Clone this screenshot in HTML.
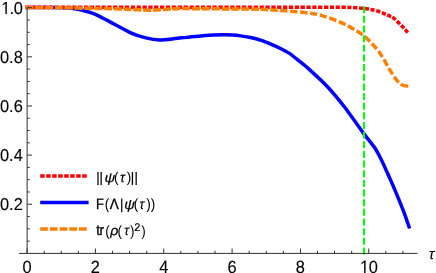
<!DOCTYPE html>
<html><head><meta charset="utf-8"><style>
html,body{margin:0;padding:0;background:#fff;}
svg{display:block;will-change:transform;text-rendering:geometricPrecision;font-family:"Liberation Sans",sans-serif;}
.tk text{font-size:16.4px;fill:#000;stroke:#000;stroke-width:0.12px;}
.lg text{font-size:13.5px;fill:#000;stroke:#000;stroke-width:0.2px;}
.it{font-style:italic;}
.lg .ns{stroke:none;}
.lg .b{stroke-width:0.32px;}
</style></head><body>
<svg width="436" height="273" viewBox="0 0 436 273">
<g fill="none" stroke-linejoin="round" stroke-width="3.5">
<path d="M25.50,7.60 C28.36,7.60 45.86,7.59 50.00,7.60 C54.14,7.61 58.06,7.56 61.00,7.70 C63.94,7.84 71.19,8.02 75.20,8.80 C79.21,9.58 88.93,11.60 95.40,14.40 C101.88,17.20 124.81,30.06 130.70,32.80 C136.59,35.54 142.52,37.07 145.90,37.90 C149.28,38.73 156.30,39.82 159.70,39.90 C163.09,39.98 171.47,38.95 175.00,38.60 C178.53,38.25 185.57,37.33 190.00,36.90 C194.43,36.47 207.98,35.13 213.00,34.90 C218.02,34.67 228.62,34.60 233.00,34.90 C237.38,35.20 247.12,36.84 250.50,37.50 C253.88,38.16 259.49,39.77 262.00,40.60 C264.51,41.43 269.78,43.66 272.00,44.60 C274.22,45.55 278.96,47.67 281.00,48.70 C283.04,49.73 287.40,51.98 289.50,53.40 C291.60,54.82 296.67,59.01 299.00,60.90 C301.33,62.79 306.23,66.64 309.50,69.60 C312.77,72.56 322.92,81.89 327.00,86.25 C331.08,90.61 340.18,101.44 344.50,107.00 C348.82,112.56 361.02,129.86 364.00,133.90 C366.98,137.94 368.70,139.92 370.00,141.60 C371.30,143.28 373.91,146.45 375.10,148.30 C376.29,150.16 379.00,155.16 380.20,157.50 C381.40,159.84 384.20,165.79 385.40,168.40 C386.60,171.01 389.61,177.91 390.50,179.90 C391.39,181.90 392.03,183.22 393.00,185.50 C393.97,187.78 397.42,196.00 398.80,199.40 C400.18,202.80 403.54,211.20 404.80,214.60 C406.06,218.00 409.04,226.88 409.60,228.50" stroke="#0000ff"/>
<path d="M25.50,7.30 C31.25,7.28 47.58,7.22 60.00,7.20 C72.42,7.18 76.67,7.16 100.00,7.15 C123.33,7.14 166.67,7.15 200.00,7.15 C233.33,7.15 276.67,7.12 300.00,7.15 C323.33,7.18 331.33,7.23 340.00,7.30 C348.67,7.37 348.00,7.38 352.00,7.55 C356.00,7.72 361.00,7.99 364.00,8.30 C367.00,8.61 368.00,9.02 370.00,9.40 C372.00,9.78 373.57,9.87 376.00,10.60 C378.43,11.33 382.27,12.87 384.60,13.80 C386.93,14.73 388.43,15.45 390.00,16.20 C391.57,16.95 392.45,17.10 394.00,18.30 C395.55,19.50 397.63,21.75 399.30,23.40 C400.97,25.05 402.60,26.67 404.00,28.20 C405.40,29.73 407.08,31.87 407.70,32.60" stroke="#ff0000" stroke-dasharray="4.3 1.55"/>
<path d="M25.50,7.50 C31.25,7.55 47.58,7.63 60.00,7.80 C72.42,7.97 90.00,8.31 100.00,8.50 C110.00,8.69 114.17,8.75 120.00,8.95 C125.83,9.15 130.00,9.50 135.00,9.70 C140.00,9.90 145.00,10.20 150.00,10.15 C155.00,10.10 160.00,9.67 165.00,9.40 C170.00,9.13 174.17,8.66 180.00,8.55 C185.83,8.44 192.50,8.69 200.00,8.75 C207.50,8.81 216.67,8.84 225.00,8.90 C233.33,8.96 242.17,8.93 250.00,9.10 C257.83,9.27 263.67,9.40 272.00,9.90 C280.33,10.40 291.67,11.15 300.00,12.10 C308.33,13.05 314.17,13.38 322.00,15.60 C329.83,17.82 339.83,21.87 347.00,25.40 C354.17,28.93 360.00,32.82 365.00,36.80 C370.00,40.78 374.00,45.77 377.00,49.30 C380.00,52.83 381.10,54.97 383.00,58.00 C384.90,61.03 386.73,64.67 388.40,67.50 C390.07,70.33 391.48,72.73 393.00,75.00 C394.52,77.27 396.17,79.53 397.50,81.10 C398.83,82.67 399.92,83.65 401.00,84.40 C402.08,85.15 402.80,85.32 404.00,85.60 C405.20,85.88 407.50,86.02 408.20,86.10" stroke="#ff7f00" stroke-dasharray="8.2 1.6 8.2 1.6 8.2 1.6 8.2 1.6 8.2 1.6 8.2 1.6 8.2 1.6 8.2 1.6 8.2 1.6 8.2 1.6 8.2 1.6 8.2 1.6 8.2 1.6 8.2 1.6 8.2 1.6 8.2 1.6 8.2 1.6 8.2 1.6 8.2 1.6 8.2 1.6 8.2 1.6 8.2 1.6 8.2 1.6 8.2 1.6 7.8 2 7.5 2.3 7.25 2.75 7.25 2.75 7.25 2.75 7.25 2.75 7.25 2.75 7.25 2.75 7.25 2.75 7.25 2.75 7.25 2.75 7.25 2.75 7.25 2.75 7.25 2.75 7.25 2.75 7.25 2.75 7.25 2.75 12 5"/>
<line x1="364" y1="6.2" x2="364" y2="254.5" stroke="#00ff00" stroke-width="2.1" stroke-dasharray="7 2.65"/>
</g>
<g stroke="#303030" stroke-width="1" fill="none">
<line x1="19" y1="253.4" x2="417.4" y2="253.4"/>
<line x1="27.1" y1="7.7" x2="27.1" y2="253.4"/>
<line x1="27.10" y1="253.40" x2="27.10" y2="248.50"/><line x1="44.18" y1="253.40" x2="44.18" y2="250.80"/><line x1="61.27" y1="253.40" x2="61.27" y2="250.80"/><line x1="78.35" y1="253.40" x2="78.35" y2="250.80"/><line x1="95.43" y1="253.40" x2="95.43" y2="248.50"/><line x1="112.51" y1="253.40" x2="112.51" y2="250.80"/><line x1="129.59" y1="253.40" x2="129.59" y2="250.80"/><line x1="146.68" y1="253.40" x2="146.68" y2="250.80"/><line x1="163.76" y1="253.40" x2="163.76" y2="248.50"/><line x1="180.84" y1="253.40" x2="180.84" y2="250.80"/><line x1="197.92" y1="253.40" x2="197.92" y2="250.80"/><line x1="215.01" y1="253.40" x2="215.01" y2="250.80"/><line x1="232.09" y1="253.40" x2="232.09" y2="248.50"/><line x1="249.17" y1="253.40" x2="249.17" y2="250.80"/><line x1="266.25" y1="253.40" x2="266.25" y2="250.80"/><line x1="283.34" y1="253.40" x2="283.34" y2="250.80"/><line x1="300.42" y1="253.40" x2="300.42" y2="248.50"/><line x1="317.50" y1="253.40" x2="317.50" y2="250.80"/><line x1="334.59" y1="253.40" x2="334.59" y2="250.80"/><line x1="351.67" y1="253.40" x2="351.67" y2="250.80"/><line x1="368.75" y1="253.40" x2="368.75" y2="248.50"/><line x1="385.83" y1="253.40" x2="385.83" y2="250.80"/><line x1="402.92" y1="253.40" x2="402.92" y2="250.80"/><line x1="27.10" y1="241.12" x2="29.70" y2="241.12"/><line x1="27.10" y1="228.83" x2="29.70" y2="228.83"/><line x1="27.10" y1="216.55" x2="29.70" y2="216.55"/><line x1="27.10" y1="204.26" x2="32.00" y2="204.26"/><line x1="27.10" y1="191.98" x2="29.70" y2="191.98"/><line x1="27.10" y1="179.69" x2="29.70" y2="179.69"/><line x1="27.10" y1="167.41" x2="29.70" y2="167.41"/><line x1="27.10" y1="155.12" x2="32.00" y2="155.12"/><line x1="27.10" y1="142.84" x2="29.70" y2="142.84"/><line x1="27.10" y1="130.55" x2="29.70" y2="130.55"/><line x1="27.10" y1="118.27" x2="29.70" y2="118.27"/><line x1="27.10" y1="105.98" x2="32.00" y2="105.98"/><line x1="27.10" y1="93.69" x2="29.70" y2="93.69"/><line x1="27.10" y1="81.41" x2="29.70" y2="81.41"/><line x1="27.10" y1="69.12" x2="29.70" y2="69.12"/><line x1="27.10" y1="56.84" x2="32.00" y2="56.84"/><line x1="27.10" y1="44.56" x2="29.70" y2="44.56"/><line x1="27.10" y1="32.27" x2="29.70" y2="32.27"/><line x1="27.10" y1="19.99" x2="29.70" y2="19.99"/><line x1="27.10" y1="7.70" x2="32.00" y2="7.70"/>
</g>
<g class="tk"><text transform="matrix(1 0 0 1.080 0 272.80)" x="27.10" y="0" text-anchor="middle">0</text><text transform="matrix(1 0 0 1.080 0 272.80)" x="95.43" y="0" text-anchor="middle">2</text><text transform="matrix(1 0 0 1.080 0 272.80)" x="163.76" y="0" text-anchor="middle">4</text><text transform="matrix(1 0 0 1.080 0 272.80)" x="232.09" y="0" text-anchor="middle">6</text><text transform="matrix(1 0 0 1.080 0 272.80)" x="300.42" y="0" text-anchor="middle">8</text><text transform="matrix(1 0 0 1.080 0 272.80)" x="359.98 368.85" y="0">10</text><text transform="matrix(1 0 0 1.055 0 210.31)" x="22.8" y="0" text-anchor="end">0.2</text><text transform="matrix(1 0 0 1.055 0 161.17)" x="22.8" y="0" text-anchor="end">0.4</text><text transform="matrix(1 0 0 1.055 0 112.03)" x="22.8" y="0" text-anchor="end">0.6</text><text transform="matrix(1 0 0 1.055 0 62.89)" x="22.8" y="0" text-anchor="end">0.8</text><text transform="matrix(1 0 0 1.055 0 13.75)" x="1.30 9.62 13.68" y="0">1.0</text>
<text class="it" x="428.75" y="259" style="font-size:15.2px">τ</text>
</g>
<g fill="#fff"><rect x="2.05" y="12.16" width="3.37" height="2.09"/><rect x="6.88" y="12.16" width="3.25" height="2.09"/><rect x="360.73" y="271.18" width="3.37" height="2.12"/><rect x="365.55" y="271.18" width="3.25" height="2.12"/></g>
<g fill="none" stroke-width="3.5">
<line x1="40.2" y1="175.9" x2="86.7" y2="175.9" stroke="#ff0000" stroke-dasharray="4.5 1.5"/>
<line x1="40.2" y1="202.6" x2="88.6" y2="202.6" stroke="#0000ff"/>
<line x1="40.2" y1="229.05" x2="86.7" y2="229.05" stroke="#ff7f00" stroke-dasharray="7.7 2"/>
</g>
<g class="lg">
<text transform="matrix(1 0 0 1.040 0 182.400)" y="0"><tspan x="96.34" y="-0.58" font-size="13.20">|</tspan><tspan x="99.44" y="-0.58" font-size="13.20">|</tspan><tspan x="104.56" y="0.00" class="it" font-size="12.40" textLength="10.78" lengthAdjust="spacingAndGlyphs">ψ</tspan><tspan x="113.97" y="0.00" class="ns">(</tspan><tspan x="120.10" y="0.00" class="it" font-size="13.00">τ</tspan><tspan x="126.83" y="0.00" class="ns">)</tspan><tspan x="130.79" y="-0.58" font-size="13.20">|</tspan><tspan x="134.39" y="-0.58" font-size="13.20">|</tspan></text>
<text transform="matrix(1 0 0 1.110 0 208.500)" y="0"><tspan x="96.01" y="0.00" class="b" textLength="7.83" lengthAdjust="spacingAndGlyphs">F</tspan><tspan x="104.67" y="0.00" class="ns">(</tspan><tspan x="109.79" y="0.00" class="b">Λ</tspan><tspan x="120.04" y="0.00" font-size="12.80">|</tspan><tspan x="124.26" y="0.00" class="it" font-size="12.30" textLength="10.68" lengthAdjust="spacingAndGlyphs">ψ</tspan><tspan x="133.87" y="0.00" class="ns">(</tspan><tspan x="139.54" y="0.00" class="it" font-size="12.60">τ</tspan><tspan x="146.23" y="0.00" class="ns">)</tspan><tspan x="150.63" y="0.00" class="ns">)</tspan></text>
<text transform="matrix(1 0 0 1.100 0 235.400)" y="0"><tspan x="96.17" y="0.00" class="b">t</tspan><tspan x="99.62" y="0.00" class="b">r</tspan><tspan x="105.37" y="0.27" class="ns">(</tspan><tspan x="110.34" y="0.00" class="it" font-size="12.20" textLength="8.11" lengthAdjust="spacingAndGlyphs">ρ</tspan><tspan x="117.57" y="0.27" class="ns">(</tspan><tspan x="124.24" y="0.00" class="it" font-size="12.60">τ</tspan><tspan x="130.08" y="0.27" class="ns">)</tspan><tspan x="134.34" y="-4.45" font-size="10.20" textLength="6.13" lengthAdjust="spacingAndGlyphs">2</tspan><tspan x="141.13" y="0.27" class="ns">)</tspan></text>
</g>
</svg>
</body></html>
